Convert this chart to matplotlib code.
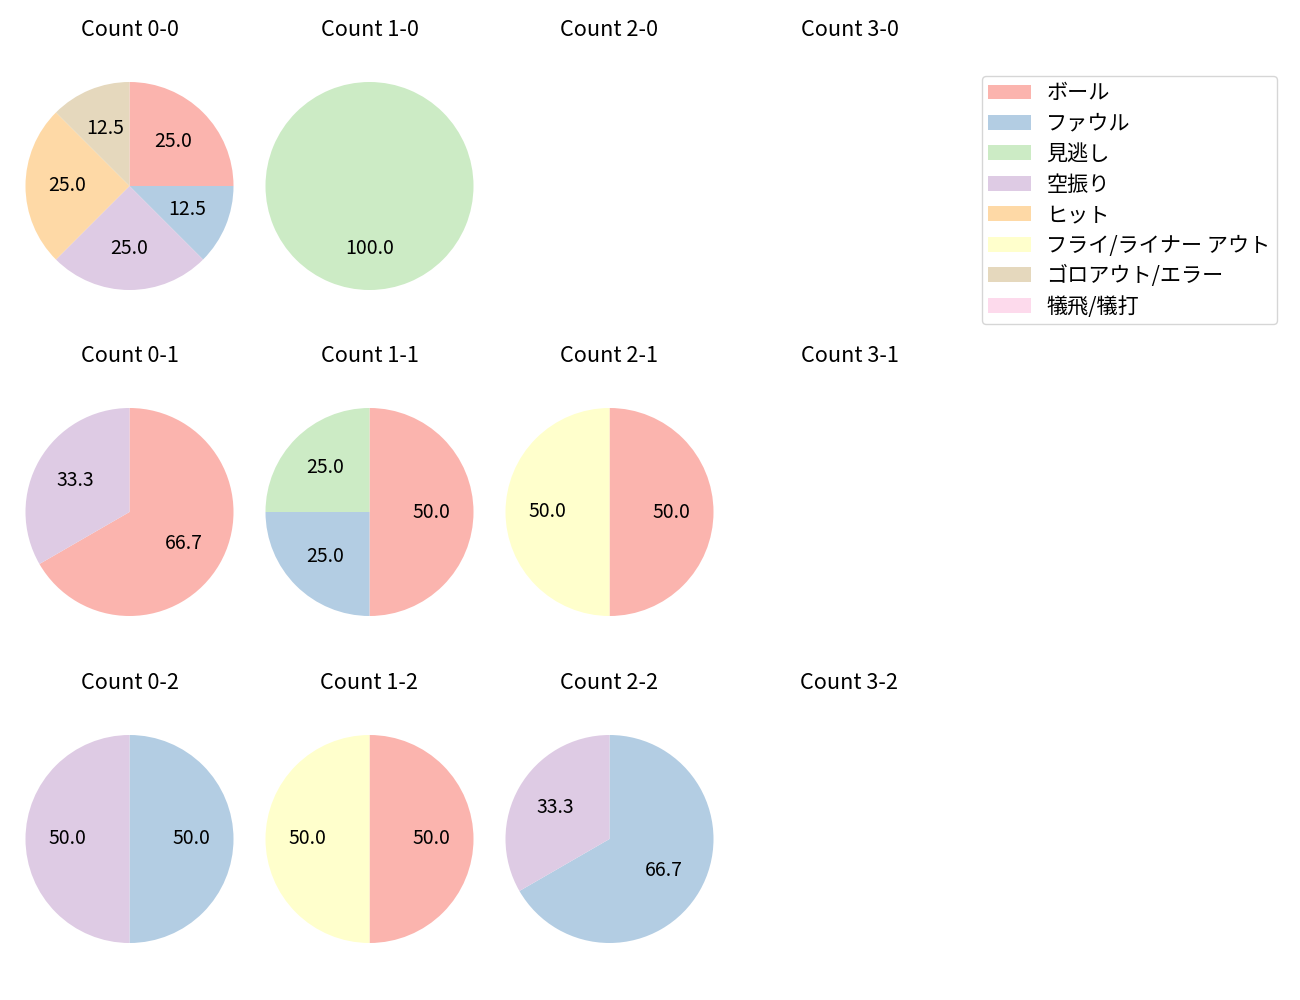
import matplotlib
matplotlib.use("Agg")
import matplotlib.pyplot as plt
from matplotlib.patches import Patch

plt.rcParams["font.family"] = ["Noto Sans CJK JP", "DejaVu Sans"]

# outcome categories (legend order) and Pastel1 colours
categories = ["ボール", "ファウル", "見逃し", "空振り", "ヒット",
              "フライ/ライナー アウト", "ゴロアウト/エラー", "犠飛/犠打"]
colors = ["#fbb4ae", "#b3cde3", "#ccebc5", "#decbe4",
          "#fed9a6", "#ffffcc", "#e5d8bd", "#fddaec"]

# pitch counts per ball-strike count, in category order
count_0_0 = [2, 1, 0, 2, 2, 0, 1, 0]
count_1_0 = [0, 0, 1, 0, 0, 0, 0, 0]
count_2_0 = [0, 0, 0, 0, 0, 0, 0, 0]
count_3_0 = [0, 0, 0, 0, 0, 0, 0, 0]
count_0_1 = [2, 0, 0, 1, 0, 0, 0, 0]
count_1_1 = [2, 1, 1, 0, 0, 0, 0, 0]
count_2_1 = [1, 0, 0, 0, 0, 1, 0, 0]
count_3_1 = [0, 0, 0, 0, 0, 0, 0, 0]
count_0_2 = [0, 1, 0, 1, 0, 0, 0, 0]
count_1_2 = [1, 0, 0, 0, 0, 1, 0, 0]
count_2_2 = [0, 2, 0, 1, 0, 0, 0, 0]
count_3_2 = [0, 0, 0, 0, 0, 0, 0, 0]

grid = [
    [("0-0", count_0_0), ("1-0", count_1_0), ("2-0", count_2_0), ("3-0", count_3_0)],
    [("0-1", count_0_1), ("1-1", count_1_1), ("2-1", count_2_1), ("3-1", count_3_1)],
    [("0-2", count_0_2), ("1-2", count_1_2), ("2-2", count_2_2), ("3-2", count_3_2)],
]

W, H = 1300, 1000
fig = plt.figure(figsize=(13, 10), dpi=100)

# pie centres in pixels, axes sized so the pie radius is ~104 px
col_x = [129.5, 369.5, 609.5, 849.5]
row_y = [186, 512, 839]
size = 260

for r, row in enumerate(grid):
    for c, (name, vals) in enumerate(row):
        cx, cy = col_x[c], row_y[r]
        ax = fig.add_axes([(cx - size / 2) / W, 1 - (cy + size / 2) / H,
                           size / W, size / H])
        ax.set_title(f"Count {name}", fontsize=15.6, pad=14.5)
        if sum(vals) == 0:
            ax.axis("off")
            continue
        idx = [i for i, v in enumerate(vals) if v > 0]
        ax.pie([vals[i] for i in idx], colors=[colors[i] for i in idx],
               startangle=90, counterclock=False,
               autopct="%.1f", textprops={"fontsize": 14})
        ax.set_aspect("equal")

handles = [Patch(facecolor=col, label=lab) for col, lab in zip(colors, categories)]
fig.legend(handles=handles, loc="upper left",
           bbox_to_anchor=(982 / W, 1 - 76 / H), borderaxespad=0,
           fontsize=15.2, labelspacing=0.4, borderpad=0.3,
           handletextpad=0.75)

fig.savefig("out.png", dpi=100)
